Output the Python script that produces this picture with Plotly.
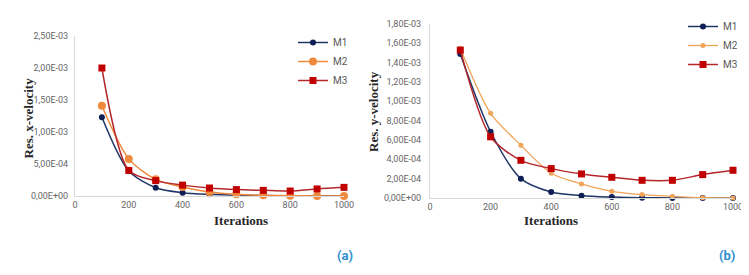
import plotly.graph_objects as go

# The page body adds an 8px margin, so the figure is sized to fill the rest
PAGE_W, PAGE_H = 749, 275
OFF = 8
W, H = PAGE_W - OFF, PAGE_H - OFF

iterations = [100, 200, 300, 400, 500, 600, 700, 800, 900, 1000]

# (a) residual x-velocity
xvel_M1 = [1.23e-3, 0.39e-3, 0.13e-3, 0.052e-3, 0.026e-3, 0.015e-3, 0.006e-3, 0.003e-3, 0.002e-3, 0.001e-3]
xvel_M2 = [1.41e-3, 0.58e-3, 0.26e-3, 0.14e-3, 0.062e-3, 0.026e-3, 0.010e-3, 0.005e-3, 0.0, 0.0]
xvel_M3 = [2.00e-3, 0.40e-3, 0.24e-3, 0.17e-3, 0.125e-3, 0.100e-3, 0.088e-3, 0.078e-3, 0.110e-3, 0.135e-3]

# (b) residual y-velocity
yvel_M1 = [1.49e-3, 0.685e-3, 0.20e-3, 0.062e-3, 0.024e-3, 0.010e-3, 0.003e-3, 0.001e-3, 0.0, 0.0]
yvel_M2 = [1.55e-3, 0.876e-3, 0.546e-3, 0.256e-3, 0.145e-3, 0.069e-3, 0.035e-3, 0.017e-3, 0.003e-3, 0.0]
yvel_M3 = [1.53e-3, 0.633e-3, 0.39e-3, 0.304e-3, 0.249e-3, 0.214e-3, 0.183e-3, 0.183e-3, 0.242e-3, 0.287e-3]

x_ticks = [0, 200, 400, 600, 800, 1000]
ya_ticks = [0, 0.5e-3, 1.0e-3, 1.5e-3, 2.0e-3, 2.5e-3]
ya_ticktext = ["0,00E+00", "5,00E-04", "1,00E-03", "1,50E-03", "2,00E-03", "2,50E-03"]
yb_ticks = [0, 0.2e-3, 0.4e-3, 0.6e-3, 0.8e-3, 1.0e-3, 1.2e-3, 1.4e-3, 1.6e-3, 1.8e-3]
yb_ticktext = ["0,00E+00", "2,00E-04", "4,00E-04", "6,00E-04", "8,00E-04",
               "1,00E-03", "1,20E-03", "1,40E-03", "1,60E-03", "1,80E-03"]

C_M1 = "#1f3566"
C_M2 = "#ef8a3c"
C_M3 = "#b3262a"
C_M2b = "#f0a45a"

def px_x(p):
    return (p - OFF) / W

def px_y(p):
    return 1 - (p - OFF) / H

fig = go.Figure()

def add(x, y, name, color, symbol, size, xa, ya, legend, lw=1.5, mcolor=None):
    fig.add_trace(go.Scatter(
        x=x, y=y, name=name, mode="lines+markers",
        line=dict(color=color, width=lw, shape="spline", smoothing=0.8),
        marker=dict(color=mcolor or color, symbol=symbol, size=size),
        xaxis=xa, yaxis=ya, legend=legend, cliponaxis=False,
    ))

add(iterations, xvel_M1, "M1", C_M1, "circle", 6, "x", "y", "legend", mcolor="#0d1f55")
add(iterations, xvel_M2, "M2", C_M2, "circle", 8, "x", "y", "legend")
add(iterations, xvel_M3, "M3", C_M3, "square", 7, "x", "y", "legend", mcolor="#c00000")

add(iterations, yvel_M1, "M1", C_M1, "circle", 6, "x2", "y2", "legend2", mcolor="#0d1f55")
add(iterations, yvel_M2, "M2", C_M2b, "circle", 5, "x2", "y2", "legend2", lw=1.3)
add(iterations, yvel_M3, "M3", C_M3, "square", 7, "x2", "y2", "legend2", mcolor="#c00000")

tickfont = dict(family="Roboto", size=9, color="#666666")
axis_common = dict(showgrid=False, zeroline=False, showline=True, linecolor="#d9d9d9",
                   linewidth=1, ticks="", tickfont=tickfont, fixedrange=True,
                   automargin=False)

fig.update_layout(
    width=W, height=H,
    margin=dict(l=0, r=0, t=0, b=0),
    paper_bgcolor="white", plot_bgcolor="white",
    xaxis=dict(domain=[px_x(75), px_x(344)], range=[0, 1000], tickvals=x_ticks,
               anchor="y", **axis_common),
    yaxis=dict(domain=[px_y(196), px_y(36)], range=[0, 2.5e-3], tickvals=ya_ticks,
               ticktext=ya_ticktext, anchor="x", ticklabelstandoff=4, **axis_common),
    xaxis2=dict(domain=[px_x(430), px_x(733)], range=[0, 1000], tickvals=x_ticks,
                anchor="y2", **axis_common),
    yaxis2=dict(domain=[px_y(198), px_y(24)], range=[0, 1.8e-3], tickvals=yb_ticks,
                ticktext=yb_ticktext, anchor="x2", ticklabelstandoff=6, **axis_common),
    legend=dict(x=px_x(293), y=px_y(28), xanchor="left", yanchor="top",
                font=dict(family="Roboto", size=10, color="#595959"),
                bgcolor="rgba(0,0,0,0)", tracegroupgap=0, itemwidth=30),
    legend2=dict(x=px_x(683), y=px_y(12), xanchor="left", yanchor="top",
                 font=dict(family="Roboto", size=10, color="#595959"),
                 bgcolor="rgba(0,0,0,0)", tracegroupgap=0, itemwidth=30),
)

title_font = dict(family="Liberation Serif", size=13, color="#262626")
fig.add_annotation(text="<b>Res. x-velocity</b>", textangle=-90, x=px_x(18), y=px_y(118),
                   xref="paper", yref="paper", showarrow=False, font=title_font)
fig.add_annotation(text="<b>Res. y-velocity</b>", textangle=-90, x=px_x(373), y=px_y(112),
                   xref="paper", yref="paper", showarrow=False, font=title_font)
fig.add_annotation(text="<b>Iterations</b>", x=px_x(212), y=px_y(230),
                   xref="paper", yref="paper", showarrow=False, font=title_font)
fig.add_annotation(text="<b>Iterations</b>", x=px_x(580), y=px_y(230),
                   xref="paper", yref="paper", showarrow=False, font=title_font)

lab_font = dict(family="Roboto", size=13, color="#2e8fd0")
fig.add_annotation(text="<b>(a)</b>", x=px_x(345), y=px_y(265),
                   xref="paper", yref="paper", showarrow=False, font=lab_font)
fig.add_annotation(text="<b>(b)</b>", x=px_x(737), y=px_y(265),
                   xref="paper", yref="paper", showarrow=False, font=lab_font)

fig.write_html("out.html")
